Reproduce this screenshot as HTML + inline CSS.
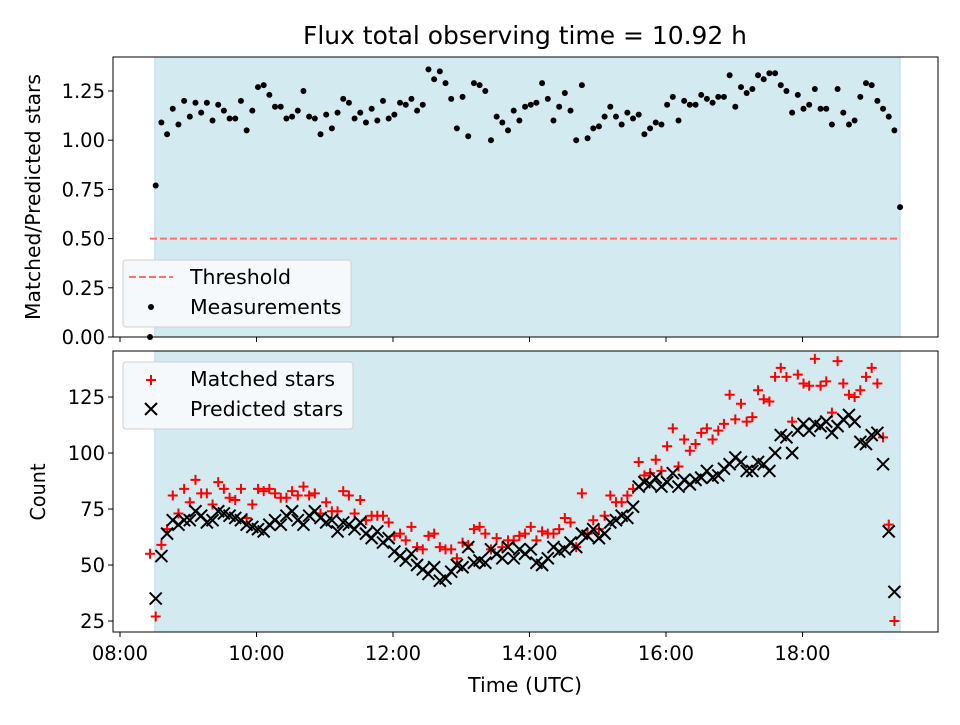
<!DOCTYPE html>
<html><head><meta charset="utf-8"><style>
body{margin:0;background:#fff;}
svg text{font-family:"DejaVu Sans","Liberation Sans",sans-serif;fill:#000;}
</style></head><body>
<svg id="chart" width="960" height="720" xmlns="http://www.w3.org/2000/svg">
<rect width="960" height="720" fill="#fff"/>
<text x="525" y="44" font-size="25" text-anchor="middle" textLength="444" lengthAdjust="spacingAndGlyphs">Flux total observing time = 10.92 h</text>
<g id="topg"></g><g id="botg"></g>
<text transform="translate(40,197) rotate(-90)" font-size="20.5" text-anchor="middle" textLength="246" lengthAdjust="spacingAndGlyphs">Matched/Predicted stars</text>
<text transform="translate(45,492) rotate(-90)" font-size="20.5" text-anchor="middle" textLength="57" lengthAdjust="spacingAndGlyphs">Count</text>
<text x="525" y="692" font-size="20.5" text-anchor="middle" textLength="114" lengthAdjust="spacingAndGlyphs">Time (UTC)</text>
</svg>
<script>
const ratio=[0,0.77,1.09,1.03,1.16,1.08,1.20,1.12,1.19,1.14,1.19,1.10,1.18,1.15,1.11,1.11,1.20,1.05,1.15,1.27,1.28,1.23,1.17,1.17,1.11,1.12,1.15,1.25,1.12,1.11,1.03,1.13,1.06,1.14,1.21,1.19,1.11,1.14,1.09,1.16,1.10,1.20,1.11,1.13,1.19,1.18,1.21,
1.15,1.18,1.36,1.31,1.35,1.29,1.21,1.06,1.22,1.02,1.29,1.28,1.25,1.00,1.12,1.09,1.05,1.15,1.10,1.17,1.18,1.19,1.29,1.21,1.10,1.17,1.24,1.15,1.00,1.28,1.01,1.06,1.07,1.12,1.17,1.12,1.08,1.14,1.11,1.13,1.03,1.06,1.09,1.08,1.18,
1.22,1.10,1.20,1.18,1.18,1.23,1.21,1.19,1.22,1.22,1.33,1.17,1.27,1.24,1.26,1.33,1.31,1.34,1.34,1.28,1.25,1.14,1.23,1.16,1.18,1.26,1.16,1.16,1.08,1.26,1.14,1.08,1.10,1.22,1.29,1.28,1.20,1.16,1.12,1.05,0.66];
const predicted=[0,35,54,64,70,68,70,70,74,72,69,70,74,73,72,71,70,68,67,66,65,68,70,68,72,74,70,68,72,74,71,69,70,65,69,68,66,69,64,62,65,60,62,56,54,52,55,50,48,46,49,43,44,47,50,49,58,51,52,51,57,55,53,58,53,57,55,57,51,50,53,58,56,57,60,58,64,63,66,62,64,69,70,72,71,76,85,87,86,89,85,87,91,85,88,86,88,89,92,89,90,93,95,98,96,92,92,96,95,92,100,108,107,100,110,113,110,113,112,114,109,112,115,117,114,105,104,108,109,95,65,38];
const matched=[55,27,59,66,81,73,84,78,88,82,82,77,87,84,80,79,84,71,77,84,83,84,82,80,80,83,81,85,81,82,73,78,74,74,83,81,73,79,70,72,72,72,69,63,64,61,67,58,57,63,64,58,57,57,53,60,59,66,67,64,57,62,58,61,61,63,64,67,61,65,64,64,66,71,69,58,82,64,70,66,72,81,78,78,81,84,96,90,91,97,92,103,111,94,106,101,104,109,111,106,110,113,126,115,122,114,116,128,124,123,134,138,134,114,135,131,130,142,130,132,118,141,131,126,125,128,134,138,131,107,68,25];
const startHour=8.44, endHour=19.43;
const xTicks=["08:00","10:00","12:00","14:00","16:00","18:00"];
const xTickHours=[8,10,12,14,16,18];
const topTicks=[0,0.25,0.5,0.75,1.0,1.25];
const botTicks=[25,50,75,100,125];
const threshold=0.5;

const NS="http://www.w3.org/2000/svg";
function mk(p,tag,at){const e=document.createElementNS(NS,tag);for(const k in at)e.setAttribute(k,at[k]);p.appendChild(e);return e;}
const L=113,R=938,FS=19.5,LFS=20.5;
const xH=h=>120+(h-8)*68.25;
const tAt=i=>startHour+i*(endHour-startHour)/(ratio.length-1);
const yT=v=>337-v*196.8;
const yB=v=>621-(v-25)*2.24;
const topG=document.getElementById('topg'), botG=document.getElementById('botg');

function frame(g,y0,y1,nm){
  const s=mk(g,'rect',{x:xH(8.51),y:y0,width:xH(19.43)-xH(8.51),height:y1-y0,fill:'#d4eaf1',stroke:'#bcdce6','stroke-width':1});
  
  
}
frame(topG,57,337,'top');frame(botG,351,632,'bottom');

const th=mk(topG,'line',{x1:xH(8.44),x2:xH(19.43),y1:yT(threshold),y2:yT(threshold),stroke:'#ff6f6f','stroke-width':2,'stroke-dasharray':'7,3'});



const clipT=mk(topG,'clipPath',{id:'ct'});mk(clipT,'rect',{x:L,y:57,width:R-L,height:283});
const dg=mk(topG,'g',{'clip-path':'url(#ct)'});
ratio.forEach((v,i)=>{
  const c=mk(dg,'circle',{cx:xH(tAt(i)),cy:yT(v),r:3,fill:'#000'});
  
  
});

const clipB=mk(botG,'clipPath',{id:'cb'});mk(clipB,'rect',{x:L,y:351,width:R-L,height:281});
const bg=mk(botG,'g',{'clip-path':'url(#cb)'});
matched.forEach((v,i)=>{
  const x=xH(tAt(i)),y=yB(v);
  const p=mk(bg,'path',{d:`M${x-5},${y}H${x+5}M${x},${y-5}V${y+5}`,stroke:'#f00','stroke-width':2});
  
  
});
predicted.forEach((v,i)=>{
  const x=xH(tAt(i)),y=yB(v);
  const p=mk(bg,'path',{d:`M${x-6},${y-6}L${x+6},${y+6}M${x-6},${y+6}L${x+6},${y-6}`,stroke:'#000','stroke-width':2});
  
  
});

[[topG,57,337],[botG,351,632]].forEach(([g,a,b])=>{
  const r=mk(g,'rect',{x:L,y:a,width:R-L,height:b-a,fill:'none',stroke:'#000','stroke-width':1});
  
  
});
xTickHours.forEach((h,i)=>{
  const x=xH(h);
  mk(topG,'line',{x1:x,x2:x,y1:337,y2:342,stroke:'#000'});
  mk(botG,'line',{x1:x,x2:x,y1:632,y2:637,stroke:'#000'});
  const t=mk(botG,'text',{x:x,y:660,'font-size':FS,'text-anchor':'middle'});
  t.textContent=xTicks[i];
  
  
});
topTicks.forEach(v=>{
  const y=yT(v);
  mk(topG,'line',{x1:L-5,x2:L,y1:y,y2:y,stroke:'#000'});
  const t=mk(topG,'text',{x:L-8,y:y+7,'font-size':FS,'text-anchor':'end'});
  t.textContent=v.toFixed(2);
  
  
});
botTicks.forEach(v=>{
  const y=yB(v);
  mk(botG,'line',{x1:L-5,x2:L,y1:y,y2:y,stroke:'#000'});
  const t=mk(botG,'text',{x:L-8,y:y+7,'font-size':FS,'text-anchor':'end'});
  t.textContent=v;
  
  
});

const lg1=mk(topG,'g',{});


mk(lg1,'rect',{x:123,y:260,width:228,height:67,rx:3,fill:'#f5f9fb',stroke:'#d0d0d0'});
mk(lg1,'line',{x1:129,x2:173,y1:277,y2:277,stroke:'#ff6f6f','stroke-width':2,'stroke-dasharray':'7,3'});
let t=mk(lg1,'text',{x:190,y:284,'font-size':LFS});t.textContent='Threshold';
mk(lg1,'circle',{cx:151,cy:307,r:3,fill:'#000'});
t=mk(lg1,'text',{x:190,y:314,'font-size':LFS});t.textContent='Measurements';

const lg2=mk(botG,'g',{});


mk(lg2,'rect',{x:123,y:362,width:230,height:67,rx:3,fill:'#f5f9fb',stroke:'#d0d0d0'});
mk(lg2,'path',{d:'M146,380H156M151,375V385',stroke:'#f00','stroke-width':2});
t=mk(lg2,'text',{x:190,y:386,'font-size':LFS});t.textContent='Matched stars';
mk(lg2,'path',{d:'M145,403L157,415M145,415L157,403',stroke:'#000','stroke-width':2});
t=mk(lg2,'text',{x:190,y:416,'font-size':LFS});t.textContent='Predicted stars';
</script>
</body></html>
